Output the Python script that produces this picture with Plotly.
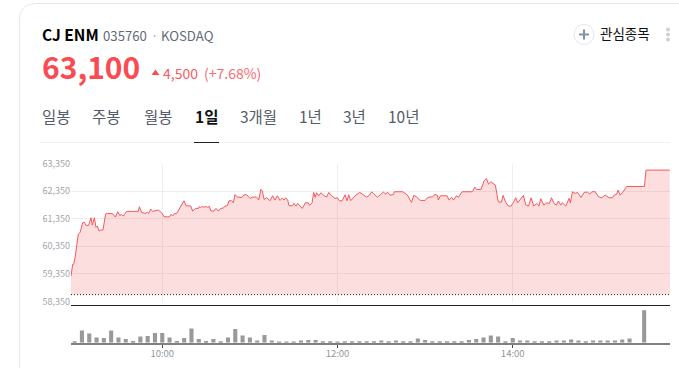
import plotly.graph_objects as go

W, H = 679, 368
PLOT_L, PLOT_R = 71, 670

# minutes after 09:00
price_t = [-2.5,-1.4,-0.7,0.2,2.5,3.7,5.5,6.6,7.8,9.6,11.2,12.1,13.5,14.6,15.5,16.7,17.8,19.4,21.2,22.4,26,27.9,29.5,31,32,33.3,35.6,43.6,44.3,45.9,48.2,49.8,50.7,52.1,53.4,57.3,59.6,61.2,64.8,66,67.1,68.3,69.9,71.7,72.8,74.9,76.3,79.5,80.8,82.9,84.7,85.2,86.3,87.6,88.6,90,91.1,92.2,93.4,95.4,96.8,98.4,100,101.8,103,104.6,105.7,107.5,108.7,109.8,111.4,114.6,116,117.8,120.1,
 121.9,124.6,126.1,127.4,128.5,129.7,131.5,133.8,135.6,137.2,138.8,140.6,142.2,143.4,144.5,145.9,146.8,149.3,150.2,151.6,152.7,154.3,155.9,158,160,160.8,162.6,163.7,164.7,165.7,167.1,168.7,170.3,172.6,174,176,178.3,179.9,181.3,183.2,185.2,186.5,187.7,189,190.8,192.6,195.3,197.6,199.9,201.8,203.4,205,207.3,209.6,211.4,213,214.2,216,218.3,219,224.7,227.9,230.7,232.3,233.9,236.7,240,241.7,245.3,246.5,248.6,249,250.5,255,256.4,258.2,259.4,261.6,262.8,265.3,272.4,
 274,275.2,278.3,280.4,282,283.4,285,288.1,290.1,290.6,292.2,293.4,295.2,297,298.8,300.4,302,303.4,305.5,307.3,309,310.8,312.6,314.4,316.5,318,319.2,321.3,323.5,325.1,326.5,328.3,329.9,331.3,332.9,334,336.3,338.6,339.5,340.9,342.7,344.3,346.8,348.9,351.2,352.8,354.2,356.5,358.7,361,363.3,366,368.3,369.4,371,372.2,373.5,375.1,378.1,390.2,391.3,407.5]
price_v = [59260,59690,59690,59916,60795,60844,61205,61217,61109,61109,61386,61120,61386,61036,61085,60904,60940,60940,61519,61543,61530,61410,61603,61458,61506,61446,61615,61615,61783,61578,61543,61578,61543,61700,61615,61663,61566,61422,61410,61506,61446,61530,61543,61711,61760,62000,61820,61808,61627,61723,61723,61783,61760,61795,61760,61795,61760,61795,61627,61627,61723,61627,61723,61735,61808,61820,62000,62000,61928,62230,62133,62120,62217,62217,62085,
 62133,62133,62025,62410,62362,62049,62109,62000,62181,62025,62181,62012,62097,62025,62109,62025,61820,61820,61904,61808,61904,61808,61723,61928,61928,61832,61928,62302,62121,62290,62181,62290,62205,62133,62302,62181,62085,62109,62000,62000,62217,62000,62217,62000,62121,62205,62302,62217,62133,62193,62326,62241,62133,62229,62314,62241,62314,62205,62229,62326,62326,62205,61940,62193,62145,62012,62012,62121,62145,62229,62193,62025,62181,62181,62025,62121,62025,62181,62121,62326,62326,
 62494,62410,62410,62723,62808,62603,62687,62567,61964,61964,61940,62193,61940,61808,61808,61928,62109,61928,62085,62193,61844,61808,62109,61808,61904,61808,62073,61844,61928,61904,62109,61904,61844,61988,61844,61928,61808,62085,61928,62326,62265,62302,62121,62302,62314,62241,62326,62326,62145,62109,62205,62109,62109,62205,62229,62386,62205,62290,62519,62519,63110,63110]

prev_close = 58600
volume_step = 5
volumes = [4,37,28,16,14,37,16,11,5,19,20,29,29,16,5,14,43,11,5,11,4,16,41,22,16,
           7,23,7,3,3,3,7,8,8,4,4,3,4,4,4,4,4,7,4,7,4,4,13,8,4,4,4,4,4,8,
           11,16,22,19,4,14,7,7,4,4,4,7,7,10,7,4,7,7,7,7,10,13,0,98]
volume_t = [i * volume_step for i in range(len(volumes))]

y_ticks = [58350, 59350, 60350, 61350, 62350, 63350]
x_ticks = [60, 180, 300]
x_labels = ["10:00", "12:00", "14:00"]
x_range = [-2.5, 407.7]

TXT = "Noto Sans CJK KR"
fx = lambda p: p / W
fy = lambda p: 1 - p / H

fig = go.Figure()
fig.add_trace(go.Scatter(x=x_range, y=[prev_close, prev_close], mode="lines",
                         line=dict(color="#222222", width=1, dash="1px 2px"),
                         hoverinfo="skip", xaxis="x", yaxis="y"))
fig.add_trace(go.Scatter(x=price_t, y=price_v, mode="lines",
                         line=dict(color="#f4585c", width=1),
                         fill="tonexty", fillcolor="rgba(245,90,90,0.20)",
                         hoverinfo="skip", xaxis="x", yaxis="y"))
fig.add_trace(go.Bar(x=volume_t, y=volumes, width=2.8, marker=dict(color="#999999", line_width=0),
                     hoverinfo="skip", xaxis="x2", yaxis="y2"))

def text(px, py, s, size, color, bold=False, anchor="left"):
    fig.add_annotation(x=fx(px), y=fy(py), xref="paper", yref="paper", text=f"<b>{s}</b>" if bold else s,
                       showarrow=False, xanchor=anchor, yanchor="middle",
                       font=dict(family=TXT, size=size, color=color), borderpad=0, borderwidth=0)

text(42, 34, "CJ ENM", 15.5, "#000000", True)
text(103, 35, "035760", 13.2, "#5f6b7a")
text(150.5, 35, "·", 13, "#9aa0a8")
text(161, 35, "KOSDAQ", 13.2, "#5f6b7a")
text(42, 66, "63,100", 30, "#fa4b52", True)
text(163, 73, "4,500", 14, "#fa5a5f")
text(204, 73, "(+7.68%)", 14, "#fa6a6f")
for px, s, b in [(42, "일봉", 0), (92, "주봉", 0), (144, "월봉", 0), (195, "1일", 1),
                 (240, "3개월", 0), (299, "1년", 0), (343, "3년", 0), (388, "10년", 0)]:
    text(px, 116, s, 15.5, "#111111" if b else "#555d68", bool(b))
text(600, 33, "관심종목", 13.5, "#111111")

shapes = []
def paper(**k):
    shapes.append(dict(xref="paper", yref="paper", layer="below", **k))
def seg(x0, y0, x1, y1, color, width=1):
    paper(type="line", x0=fx(x0), y0=fy(y0), x1=fx(x1), y1=fy(y1), line=dict(color=color, width=width))

# card outline
paper(type="path",
      path=f"M {fx(19.5)} {fy(368)} L {fx(19.5)} {fy(20)} Q {fx(19.5)} {fy(3.5)} {fx(36)} {fy(3.5)} L {fx(679)} {fy(3.5)}",
      line=dict(color="#e8e8e8", width=1))
seg(40, 142.5, 670, 142.5, "#f0f0f0")
seg(194, 142.5, 219, 142.5, "#222222")
seg(PLOT_L, 305.5, PLOT_R, 305.5, "#222222")
# up triangle
paper(type="path", path=f"M {fx(151.5)} {fy(75)} L {fx(155.5)} {fy(69.5)} L {fx(159.5)} {fy(75)} Z",
      fillcolor="#fa4b52", line_width=0)
# watchlist icon
paper(type="circle", x0=fx(574), x1=fx(594), y0=fy(24.5), y1=fy(44.5), line=dict(color="#e3e5ea", width=1),
      fillcolor="white")
seg(579, 34.5, 589, 34.5, "#8492a6", 2)
seg(584, 29.5, 584, 39.5, "#8492a6", 2)
for py in (29.5, 34.5, 39.5):
    paper(type="circle", x0=fx(666), x1=fx(670), y0=fy(py - 2), y1=fy(py + 2), fillcolor="#cdd1da", line_width=0)

fig.update_layout(
    width=W, height=H, margin=dict(l=0, r=0, t=0, b=0, autoexpand=False), paper_bgcolor="white", plot_bgcolor="white",
    showlegend=False, shapes=shapes,
    xaxis=dict(domain=[fx(PLOT_L), fx(PLOT_R)], range=x_range, tickvals=x_ticks, showticklabels=False,
               showgrid=True, gridcolor="#eeeeee", gridwidth=1, zeroline=False, ticks="", anchor="y"),
    yaxis=dict(domain=[fy(301.5), fy(163.5)], range=[58350, 63350], tickvals=y_ticks, tickformat=",",
               showgrid=True, gridcolor="#eeeeee", gridwidth=1, zeroline=False, ticks="",
               tickfont=dict(family=TXT, size=9, color="#a0a6ad"), anchor="x"),
    xaxis2=dict(domain=[fx(PLOT_L), fx(PLOT_R)], range=x_range, tickvals=x_ticks, ticktext=x_labels,
                showgrid=False, zeroline=False, showline=True, linecolor="#808080", linewidth=2,
                ticks="outside", ticklen=3, tickcolor="#444444", tickwidth=1, ticklabelstandoff=-2,
                tickfont=dict(family=TXT, size=9.5, color="#8f969e"), anchor="y2"),
    yaxis2=dict(domain=[fy(342.7), fy(305.5)], range=[0, 112], showgrid=False, zeroline=False,
                showticklabels=False, ticks="", anchor="x2"),
)
fig.write_html("out.html", config=dict(displayModeBar=False),
               post_script="document.body.style.margin='0';document.body.style.overflow='hidden';")
